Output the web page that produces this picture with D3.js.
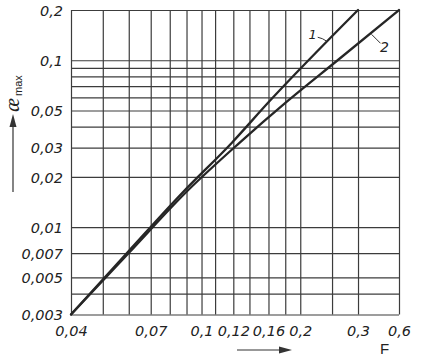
<!DOCTYPE html>
<html>
<head>
<meta charset="utf-8">
<script src="https://cdn.jsdelivr.net/npm/d3@7"></script>
<style>
  html, body { margin: 0; padding: 0; background: #fff; }
  svg { display: block; }
  .lbl { font-family: "DejaVu Sans", sans-serif; font-style: italic; fill: #222; }
</style>
</head>
<body>
<svg id="chart" width="421" height="358"></svg>
<script>
// grid lines (F on the horizontal, ae_max on the vertical, both log)
const xGrid = [0.04, 0.05, 0.06, 0.07, 0.08, 0.09, 0.1, 0.11, 0.125, 0.14, 0.16, 0.18, 0.2, 0.25, 0.3, 0.4];
const yGrid = [0.003, 0.004, 0.005, 0.007, 0.01, 0.02, 0.03, 0.04, 0.05, 0.06, 0.07, 0.08, 0.09, 0.1, 0.2];

// labelled ticks
const xTickValues = [0.04, 0.07, 0.1, 0.125, 0.16, 0.2, 0.3, 0.4];
const xTickLabels = ["0,04", "0,07", "0,1", "0,12", "0,16", "0,2", "0,3", "0,6"];
const yTickValues = [0.003, 0.005, 0.007, 0.01, 0.02, 0.03, 0.05, 0.1, 0.2];
const yTickLabels = ["0,003", "0,005", "0,007", "0,01", "0,02", "0,03", "0,05", "0,1", "0,2"];

// curve 1
const curve1F  = [0.04, 0.06, 0.088, 0.124, 0.16, 0.3];
const curve1Ae = [0.003, 0.0072, 0.0163, 0.0322, 0.056, 0.2];
// curve 2
const curve2F  = [0.04, 0.06, 0.09, 0.13, 0.182, 0.26, 0.4];
const curve2Ae = [0.003, 0.0070, 0.0163, 0.0318, 0.0565, 0.1, 0.2];

const margin = { top: 10, right: 22, bottom: 43.5, left: 71 };
const W = 421, H = 358;
const width = W - margin.left - margin.right;
const height = H - margin.top - margin.bottom;

const svg = d3.select("#chart");
const g = svg.append("g").attr("transform", `translate(${margin.left},${margin.top})`);

const x = d3.scaleLog().domain([0.04, 0.4]).range([0, width]);
const y = d3.scaleLog().domain([0.003, 0.2]).range([height, 0]);

const gridColor = "#3c3c3c";

// vertical grid
g.append("g")
  .attr("transform", `translate(0,${height})`)
  .call(d3.axisBottom(x).tickValues(xGrid).tickSize(height).tickSizeOuter(0).tickFormat(""))
  .call(a => a.select(".domain").remove())
  .call(a => a.selectAll("line").attr("y2", -height).attr("stroke", gridColor).attr("stroke-width", 1.2));

// horizontal grid
g.append("g")
  .call(d3.axisLeft(y).tickValues(yGrid).tickSize(-width).tickSizeOuter(0).tickFormat(""))
  .call(a => a.select(".domain").remove())
  .call(a => a.selectAll("line").attr("stroke", gridColor).attr("stroke-width", 1.2));

// tick labels, x
g.append("g")
  .attr("transform", `translate(0,${height})`)
  .call(d3.axisBottom(x).tickValues(xTickValues).tickSize(0)
    .tickFormat((d, i) => xTickLabels[i]))
  .call(a => a.select(".domain").remove())
  .call(a => a.selectAll("text")
    .attr("class", "lbl").attr("y", 11).attr("dy", "0.71em")
    .style("font-size", "14.5px"));

// tick labels, y
g.append("g")
  .call(d3.axisLeft(y).tickValues(yTickValues).tickSize(0)
    .tickFormat((d, i) => yTickLabels[i]))
  .call(a => a.select(".domain").remove())
  .call(a => a.selectAll("text")
    .attr("class", "lbl").attr("x", -8).attr("dy", "0.36em")
    .style("font-size", "14.5px"));

// curves
const line = d3.line()
  .x(d => x(d[0]))
  .y(d => y(d[1]))
  .curve(d3.curveMonotoneX);

const series = [
  d3.zip(curve1F, curve1Ae),
  d3.zip(curve2F, curve2Ae)
];

g.selectAll("path.curve").data(series).enter()
  .append("path")
  .attr("class", "curve")
  .attr("d", line)
  .attr("fill", "none")
  .attr("stroke", "#262626")
  .attr("stroke-width", 2.3)
  .attr("stroke-linecap", "round");

// point on a curve for a given ae, log interpolation
function fAt(fs, aes, ae) {
  for (let i = 1; i < aes.length; i++) {
    if (ae <= aes[i]) {
      const t = (Math.log(ae) - Math.log(aes[i - 1])) / (Math.log(aes[i]) - Math.log(aes[i - 1]));
      return Math.exp(Math.log(fs[i - 1]) + t * (Math.log(fs[i]) - Math.log(fs[i - 1])));
    }
  }
  return fs[fs.length - 1];
}

// curve labels with leaders
const p1 = [x(fAt(curve1F, curve1Ae, 0.13)), y(0.13)];
const p2 = [x(fAt(curve2F, curve2Ae, 0.145)), y(0.145)];

g.append("path")
  .attr("d", `M${p1[0] - 10},${p1[1] - 4} Q${p1[0] - 5},${p1[1] - 3} ${p1[0] - 1},${p1[1]}`)
  .attr("fill", "none").attr("stroke", "#333").attr("stroke-width", 1);
g.append("text").attr("class", "lbl")
  .attr("x", p1[0] - 15).attr("y", p1[1] - 2)
  .attr("text-anchor", "middle")
  .style("font-size", "13px")
  .text("1");

g.append("path")
  .attr("d", `M${p2[0] + 1},${p2[1] + 1} Q${p2[0] + 6},${p2[1] + 6} ${p2[0] + 10},${p2[1] + 10}`)
  .attr("fill", "none").attr("stroke", "#333").attr("stroke-width", 1);
g.append("text").attr("class", "lbl")
  .attr("x", p2[0] + 14).attr("y", p2[1] + 19)
  .attr("text-anchor", "middle")
  .style("font-size", "14px")
  .text("2");

// y title with arrow
const yt = svg.append("text")
  .attr("transform", "translate(19,112) rotate(-90)")
  .attr("fill", "#222");
yt.append("tspan")
  .style("font-family", "'Liberation Serif', serif")
  .style("font-style", "italic")
  .style("font-size", "21px")
  .text("æ");
yt.append("tspan")
  .attr("dx", 2).attr("dy", 3)
  .style("font-family", "'Liberation Sans', sans-serif")
  .style("font-size", "11px")
  .text("max");

svg.append("line")
  .attr("x1", 13).attr("x2", 13).attr("y1", 192).attr("y2", 124)
  .attr("stroke", "#333").attr("stroke-width", 1.2);
svg.append("path")
  .attr("d", "M13,114 L9.5,127 L16.5,127 Z")
  .attr("fill", "#333");

// x title with arrow
svg.append("line")
  .attr("x1", 237).attr("x2", 282).attr("y1", 350).attr("y2", 350)
  .attr("stroke", "#333").attr("stroke-width", 1.2);
svg.append("path")
  .attr("d", "M292,350 L279,346.5 L279,353.5 Z")
  .attr("fill", "#333");

svg.append("text")
  .attr("x", 384.5).attr("y", 354)
  .attr("text-anchor", "middle")
  .style("font-family", "'Liberation Sans', sans-serif")
  .style("font-size", "15px")
  .attr("fill", "#222")
  .text("F");
</script>
</body>
</html>
